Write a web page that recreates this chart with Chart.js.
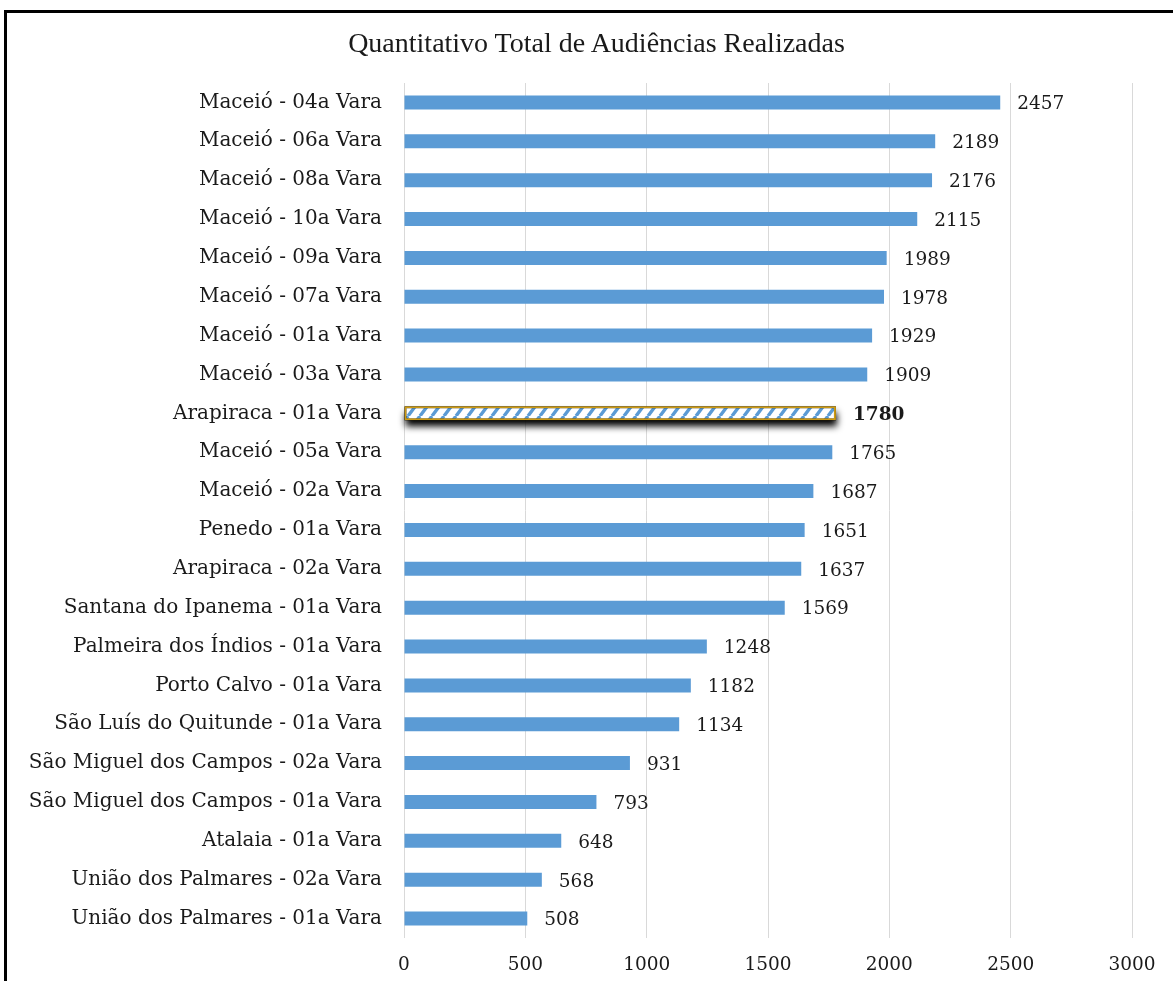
<!DOCTYPE html>
<html>
<head>
<meta charset="utf-8">
<script src="https://cdn.jsdelivr.net/npm/chart.js@4.4.0/dist/chart.umd.min.js"></script>
<style>
    html, body { margin: 0; padding: 0; background: #fff; overflow: hidden; }
    #frame {
        position: absolute; left: 4px; top: 10px; width: 1175px; height: 990px;
        border-left: 3px solid #000; border-top: 3px solid #000;
    }
    #wrap { position: absolute; left: 0; top: 0; width: 1173px; height: 981px; }
    #title {
        position: absolute; left: 20px; width: 1153px; top: 27px; text-align: center;
        font-family: 'Liberation Serif', serif; font-size: 28px; line-height: 32px; color: #1a1a1a;
    }
</style>
</head>
<body>
<div id="frame"></div>
<div id="wrap"><canvas id="mainChart" width="1173" height="981"></canvas></div>
<div id="title">Quantitativo Total de Audiências Realizadas</div>
<script>
// chart data
const varas = [
    'Maceió - 04a Vara', 'Maceió - 06a Vara', 'Maceió - 08a Vara', 'Maceió - 10a Vara',
    'Maceió - 09a Vara', 'Maceió - 07a Vara', 'Maceió - 01a Vara', 'Maceió - 03a Vara',
    'Arapiraca - 01a Vara', 'Maceió - 05a Vara', 'Maceió - 02a Vara', 'Penedo - 01a Vara',
    'Arapiraca - 02a Vara', 'Santana do Ipanema - 01a Vara', 'Palmeira dos Índios - 01a Vara',
    'Porto Calvo - 01a Vara', 'São Luís do Quitunde - 01a Vara', 'São Miguel dos Campos - 02a Vara',
    'São Miguel dos Campos - 01a Vara', 'Atalaia - 01a Vara', 'União dos Palmares - 02a Vara',
    'União dos Palmares - 01a Vara'
];
const audiencias = [2457, 2189, 2176, 2115, 1989, 1978, 1929, 1909, 1780, 1765, 1687, 1651,
    1637, 1569, 1248, 1182, 1134, 931, 793, 648, 568, 508];
const xTicks = [0, 500, 1000, 1500, 2000, 2500, 3000];
const highlightLabel = 'Arapiraca - 01a Vara';

const FONT = "'DejaVu Serif', 'Liberation Serif', serif";
const BLUE = '#5B9BD5';

// diagonal hatch for the highlighted bar
function makeHatch() {
    const c = document.createElement('canvas');
    c.width = 12; c.height = 16;
    const g = c.getContext('2d');
    g.fillStyle = '#fff';
    g.fillRect(0, 0, 12, 16);
    g.strokeStyle = BLUE;
    g.lineWidth = 3.4;
    g.beginPath();
    for (let s = -12; s <= 12; s += 12) {
        g.moveTo(s, 16);
        g.lineTo(s + 12, 0);
    }
    g.stroke();
    return g.createPattern(c, 'repeat');
}

const hatch = makeHatch();
const hlIndex = varas.indexOf(highlightLabel);

const shadowPlugin = {
    id: 'shadow',
    beforeDatasetsDraw(chart) {
        const bar = chart.getDatasetMeta(0).data[hlIndex];
        if (!bar) return;
        const ctx = chart.ctx;
        const h = bar.height;
        ctx.save();
        ctx.shadowColor = 'rgba(0,0,0,1)';
        ctx.shadowBlur = 7;
        ctx.shadowOffsetX = 1;
        ctx.shadowOffsetY = 6;
        ctx.fillStyle = '#000';
        ctx.fillRect(bar.base, bar.y - h / 2, bar.x - bar.base, h);
        ctx.restore();
    }
};

const valueLabels = {
    id: 'valueLabels',
    afterDatasetsDraw(chart) {
        const ctx = chart.ctx;
        const meta = chart.getDatasetMeta(0);
        ctx.save();
        ctx.textAlign = 'left';
        ctx.textBaseline = 'middle';
        ctx.fillStyle = '#1a1a1a';
        meta.data.forEach((bar, i) => {
            ctx.font = (i === hlIndex ? 'bold ' : '') + '18.5px ' + FONT;
            ctx.fillText(audiencias[i], bar.x + 17, bar.y + 2);
        });
        ctx.restore();
    }
};

new Chart(document.getElementById('mainChart').getContext('2d'), {
    type: 'bar',
    data: {
        labels: varas,
        datasets: [{
            data: audiencias,
            backgroundColor: varas.map((v, i) => i === hlIndex ? hatch : BLUE),
            borderColor: varas.map((v, i) => i === hlIndex ? '#CC9A12' : BLUE),
            borderWidth: varas.map((v, i) => i === hlIndex ? 2 : 0),
            borderSkipped: false,
            barPercentage: 0.72,
            categoryPercentage: 0.5
        }]
    },
    options: {
        indexAxis: 'y',
        responsive: false,
        animation: false,
        layout: { padding: { left: 12, right: 41, top: 83, bottom: 0 } },
        plugins: {
            legend: { display: false },
            tooltip: { enabled: false },
            title: { display: false }
        },
        scales: {
            x: {
                min: 0,
                max: 3000,
                afterBuildTicks: (scale) => { scale.ticks = xTicks.map(v => ({ value: v })); },
                afterFit: (scale) => { scale.height = 43; },
                grid: { color: '#d9d9d9', drawTicks: false, lineWidth: 1 },
                border: { display: false },
                ticks: {
                    padding: 16,
                    color: '#1a1a1a',
                    font: { family: FONT, size: 18.5 },
                    callback: (value) => String(value)
                }
            },
            y: {
                afterFit: (scale) => { scale.width = 404 - 12; },
                grid: { display: false, drawTicks: false },
                border: { display: false },
                ticks: { padding: 22, color: '#1a1a1a', autoSkip: false, font: { family: FONT, size: 20 } }
            }
        }
    },
    plugins: [shadowPlugin, valueLabels]
});
</script>
</body>
</html>
